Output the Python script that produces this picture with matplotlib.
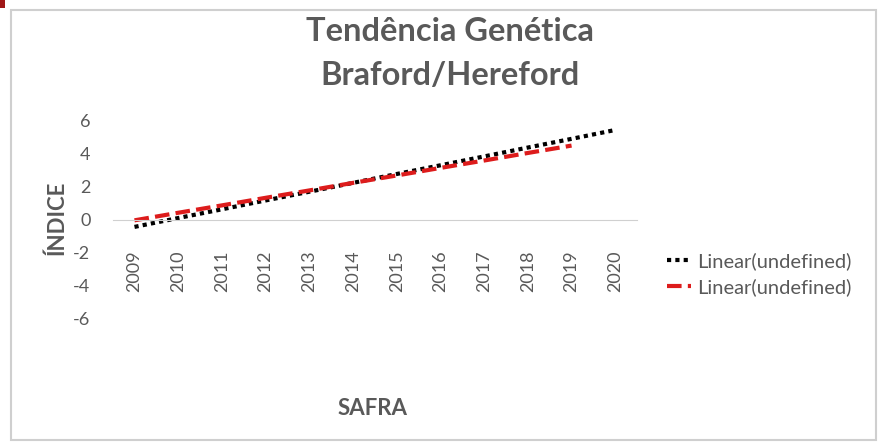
import matplotlib.pyplot as plt
from matplotlib.patches import Rectangle

safras = ['2009', '2010', '2011', '2012', '2013', '2014',
          '2015', '2016', '2017', '2018', '2019', '2020']
# trend values
linear_preto = [-0.45, 0.09, 0.62, 1.16, 1.69, 2.23, 2.77, 3.30, 3.84, 4.38, 4.91, 5.45]
linear_vermelho = [-0.05, 0.41, 0.86, 1.32, 1.77, 2.23, 2.68, 3.14, 3.59, 4.05, 4.50]
legenda = ['Linear(undefined)', 'Linear(undefined)']

cinza = '#595959'
plt.rcParams['font.family'] = ['Lato', 'DejaVu Sans']
plt.rcParams['axes.unicode_minus'] = False

fig = plt.figure(figsize=(8.8, 4.43), dpi=100)
ax = fig.add_axes([0.128, 0.282, 0.596, 0.445])

x = list(range(len(safras)))
ax.plot(x, linear_preto, color='black', linestyle=(0, (1, 1)), linewidth=3,
        label=legenda[0])
ax.plot(x[:len(linear_vermelho)], linear_vermelho, color='#dd1c1c',
        linestyle=(0, (3.5, 1.5)), linewidth=3, label=legenda[1])

ax.set_xlim(-0.5, len(safras) - 0.5)
ax.set_ylim(-6, 6)
ax.set_yticks([-6, -4, -2, 0, 2, 4, 6])
ax.set_xticks(x)
ax.set_xticklabels(safras)

for s in ['top', 'right', 'left']:
    ax.spines[s].set_visible(False)
ax.spines['bottom'].set_position(('data', 0))
ax.spines['bottom'].set_color('#d0d0d0')
ax.tick_params(axis='both', length=0, labelsize=13, colors=cinza)
ax.tick_params(axis='y', pad=16)
ax.tick_params(axis='x', pad=22, labelrotation=90)
ax.set_facecolor('none')

fig.text(0.065, 0.508, 'ÍNDICE', rotation=90, ha='center', va='center',
         fontsize=16, fontweight='bold', color=cinza)
fig.text(0.423, 0.077, 'SAFRA', ha='center', va='center',
         fontsize=16, fontweight='bold', color=cinza)
fig.text(0.511, 0.928, 'Tendência Genética', ha='center', va='center',
         fontsize=23.5, fontweight='bold', color=cinza)
fig.text(0.511, 0.83, 'Braford/Hereford', ha='center', va='center',
         fontsize=23.5, fontweight='bold', color=cinza)

leg = fig.legend(loc='center left', bbox_to_anchor=(0.737, 0.382), frameon=False,
                 fontsize=14.5, handlelength=1.2, handletextpad=0.3, labelspacing=0.4)
for t in leg.get_texts():
    t.set_color(cinza)

fig.patches.append(Rectangle((0.013, 0.007), 0.982, 0.97, transform=fig.transFigure,
                             fill=False, edgecolor='#cfcfcf', linewidth=1.5))
fig.patches.append(Rectangle((0, 0.982), 0.006, 0.018, transform=fig.transFigure,
                             color='#a01818', linewidth=0))

fig.savefig('out.png', dpi=100)
